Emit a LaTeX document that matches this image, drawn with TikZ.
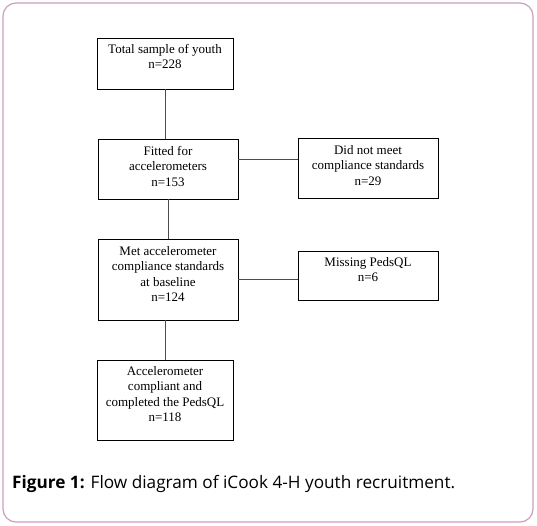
\documentclass[tikz,border=0pt]{standalone}
\usepackage{fontspec}
\setmainfont{Liberation Serif}
\newfontfamily\capfont{Open Sans}
\begin{document}
\begin{tikzpicture}[x=1pt,y=-1pt,
  box/.style={draw=black,line width=0.9pt,anchor=north west,inner sep=0pt,outer sep=0pt,
    font=\fontsize{13}{15.5}\selectfont},
  conn/.style={draw=black!70,line width=0.9pt}]
\useasboundingbox (0,0) rectangle (537,526);
\draw[draw={rgb,255:red,200;green,160;blue,188},line width=1.2pt,rounded corners=13pt] (3,3) rectangle (533,522);
\newcommand{\bx}[4]{\parbox[c][#2pt][t]{#1pt}{\centering\vspace{#3pt}#4}}
\node[box] (b1) at (97,38) {\bx{136}{51}{6}{Total sample of youth\\n=228}};
\node[box] (b2) at (98,139) {\bx{140}{60}{7}{Fitted for\\accelerometers\\n=153}};
\node[box] (b3) at (298,138) {\bx{140}{60}{7}{Did not meet\\compliance standards\\n=29}};
\node[box] (b4) at (98,239) {\bx{140}{81}{7}{Met accelerometer\\compliance standards\\at baseline\\n=124}};
\node[box] (b5) at (298,251) {\bx{140}{49}{6}{Missing PedsQL\\n=6}};
\node[box] (b6) at (97,360) {\bx{136}{80}{6}{Accelerometer\\compliant and\\completed the PedsQL\\n=118}};
\draw[conn] (b1.south) -- (b1.south |- b2.north);
\draw[conn] (b2.south) -- (b4.north);
\draw[conn] (b6.north) -- (b6.north |- b4.south);
\draw[conn] ([yshift=10pt]b2.east) -- ([yshift=10pt]b2.east -| b3.west);
\draw[conn] (b4.east) -- (b4.east -| b5.west);
\node[anchor=base west,inner sep=0pt,font=\capfont\fontsize{17.2}{20}\selectfont] (cap) at (12,488)
  {\textbf{Figure 1:} Flow diagram of iCook 4-H youth recruitment.};
\end{tikzpicture}
\end{document}
